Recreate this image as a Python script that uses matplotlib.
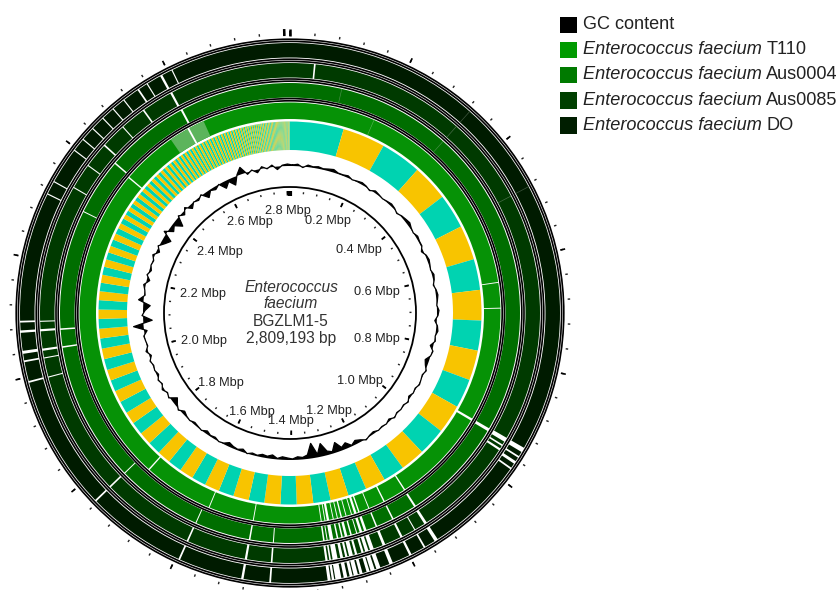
import numpy as np
import matplotlib.pyplot as plt
from matplotlib.patches import Wedge, Rectangle, Circle, PathPatch
from matplotlib.collections import PatchCollection, LineCollection
from matplotlib.path import Path

plt.rcParams['font.family'] = ['Liberation Sans', 'DejaVu Sans']

GENOME_BP = 2809193
GENOME_NAME = ['Enterococcus', 'faecium', 'BGZLM1-5', '2,809,193 bp']

# contig lengths (kb) in assembly order
contig_kb = [
    127, 101, 97, 86, 82, 82, 73, 72, 71, 71, 69, 68, 66, 58, 51, 48, 44, 43, 41, 39, 38,
    38, 37, 37, 36, 35, 34, 33, 33, 32, 31, 30, 30, 29, 29, 28, 27, 26, 26, 25, 24,
    23, 23, 22, 22, 21, 20, 19, 19, 18, 17, 16, 16, 15, 14, 13, 12.5,
    11, 10.5, 10, 9.8, 9.5, 9.2, 9, 8.7, 8.5, 8.2, 8, 7.8, 7.6, 7.4, 7.2, 7, 6.8,
    6.6, 6.4, 6.2, 6, 5.9, 5.8, 5.6, 5.5, 5.4, 5.3, 5.2, 5.1, 5.0, 4.9, 4.8, 4.7, 4.6, 4.5,
    4.4, 4.4, 4.3, 4.3, 4.3, 4.2, 4.2, 4.2, 4.2, 4.1, 4.1, 4.1, 4.0, 3.9, 3.9, 3.8,
    3.7, 3.7, 3.6, 3.5, 3.5, 3.4, 3.4, 3.3, 3.2, 3.2, 3.1, 3.1, 3.0, 3.0,
    2.9, 2.9, 2.8, 2.8, 2.7, 2.7, 2.6, 2.6, 2.5, 2.5, 2.4, 2.4, 2.4, 2.3, 2.3,
    2.2, 2.2, 2.2, 2.1, 2.1, 2.0, 2.0, 2.0, 1.9, 1.9, 1.9, 1.8, 1.8, 1.8, 1.7,
    1.7, 1.7, 1.6, 1.6, 1.6, 1.5, 1.5, 1.5, 1.5, 1.4, 1.4, 1.4, 1.3, 1.3, 1.3, 1.3,
    1.2, 1.2, 1.2, 1.2, 1.1, 1.1, 1.1, 1.1, 1.0, 1.0, 1.0, 1.0, 1.0, 1.0,
    0.9, 0.9, 0.9, 0.9, 0.8, 0.8, 0.8, 0.8, 0.7,
]
CONTIG_COLORS = ['#00d3b1', '#f8c400']

# GC content deviation, 2-degree windows starting at the origin
gc_dev = [
    1, 2, -1, 2, 1, 2, 1, 2, 3, 1,
    1, 2, 0, 1, 2, 1, -1, 2, 1, 0,
    1, 2, 1, -1, 1, 2, 3, 1, 0, 2,
    1, 1, -2, 1, 2, 1, 0, 2, 1, -1,
    1, 2, 1, 0, 2, 1, -2, 1, 2, 0,
    1, -3, 1, 0, -4, -2, 1, -1, 0, 1,
    -1, 0, -2, 1, -1, 0, -1, 1, -2, 0,
    -1, 0, -2, -1, 1, -2, -4, -1, -6, -3,
    -10, -2, -4, -13, -3, -15, -4, -2, -3, -1,
    -2, -3, -1, -4, -2, -3, -1, -2, 0, -3,
    -1, -2, -4, -1, 0, -2, -1, -3, 0, -1,
    -2, 0, -1, -3, 1, -2, -6, 1, -1, 2,
    -1, 1, -2, 0, -1, 1, -2, 2, -1, 0,
    1, -3, 10, -9, 1, -2, -7, 5, -1, 0,
    2, -3, 1, -2, 0, -1, 2, -3, 1, -4,
    -8, 3, -5, -2, -9, 1, -3, 2, -4, 0,
    -2, 1, -6, -1, -3, 0, -7, -2, -8, 1,
    7, -2, 1, -3, 2, -1, 2, -3, 1, 2,
]

strain_ids = ['T110', 'Aus0004', 'Aus0085', 'DO']
strain_colors = ['#069206', '#006e00', '#003a00', '#001b00']
weak_colors = ['#5cb45c', '#4c8f4c', '#4b6e4b', '#3e553e']
legend_colors = ['#009a00', '#007a00', '#004000', '#001e00']

# regions without BLAST hits (kb)
t110_gaps = [(636, 638), (691, 693), (937, 942), (1146, 1149), (1196, 1199), (1232, 1234),
             (1254, 1257), (1261, 1266), (1271, 1273), (1283, 1285), (1293, 1296), (1302, 1304),
             (1311, 1313), (1321, 1326), (1329, 1331), (1337, 1339), (1482, 1484), (1580, 1582),
             (1731, 1734), (2418, 2421), (2582, 2586)]
aus0004_gaps = [(937, 943), (1146, 1150), (1196, 1199), (1231, 1234), (1253, 1258), (1262, 1267),
                (1272, 1274), (1283, 1286), (1292, 1297), (1301, 1304), (1310, 1313), (1320, 1327),
                (1331, 1333), (1337, 1340), (1436, 1438), (1482, 1485), (1592, 1594), (1762, 1764),
                (2039, 2042), (2074, 2077), (2310, 2312), (2422, 2425), (2588, 2592)]
aus0085_gaps = [(43, 46), (936, 944), (950, 953), (958, 962), (1146, 1151), (1170, 1172),
                (1196, 1200), (1230, 1235), (1252, 1259), (1262, 1268), (1271, 1275), (1283, 1287),
                (1291, 1298), (1301, 1305), (1309, 1314), (1319, 1328), (1331, 1334), (1337, 1341),
                (1436, 1439), (1482, 1486), (1592, 1595), (1762, 1765), (1990, 1992), (2025, 2027),
                (2039, 2043), (2074, 2078), (2091, 2093), (2341, 2343), (2388, 2390), (2434, 2437),
                (2481, 2483), (2528, 2531), (2586, 2590)]
do_gaps = [(936, 944), (952, 955), (962, 967), (975, 978), (1146, 1152), (1170, 1173),
           (1196, 1200), (1230, 1236), (1252, 1259), (1262, 1269), (1271, 1276), (1283, 1288),
           (1291, 1298), (1300, 1305), (1309, 1315), (1319, 1329), (1331, 1335), (1337, 1342),
           (1436, 1439), (1482, 1486), (1592, 1595), (1762, 1765), (1990, 1993), (2025, 2028),
           (2039, 2044), (2074, 2078), (2091, 2094), (2310, 2312), (2333, 2335), (2395, 2397),
           (2418, 2420), (2442, 2444), (2466, 2468), (2489, 2491), (2512, 2514), (2541, 2544),
           (2559, 2561), (2585, 2589), (2606, 2608)]
strain_gaps = [t110_gaps, aus0004_gaps, aus0085_gaps, do_gaps]

# weaker hits drawn lighter (kb)
t110_weak = [(183, 184.2), (2540, 2620)]
aus0004_weak = [(101, 102.2), (325, 326.2)]
aus0085_weak = [(325, 326.2), (484, 485.2)]
do_weak = [(325, 326.2), (484, 485.2)]
strain_weak = [t110_weak, aus0004_weak, aus0085_weak, do_weak]

CX, CY = 290, 313
RING_R = [(194, 210.5), (215.5, 230), (235.5, 250), (255.5, 270)]
BORDER_R = [212.2, 214.4, 231.8, 234.0, 251.6, 253.8, 271.6, 273.8]


def to_deg(kb):
    return kb * 1000.0 / GENOME_BP * 360.0


def polar(g, r):
    a = np.deg2rad(g)
    return CX + r * np.sin(a), CY - r * np.cos(a)


def band(g0, g1, r0, r1, color):
    # y axis points down, so data angle = genome angle - 90 runs clockwise
    return Wedge((CX, CY), r1, g0 - 90, g1 - 90, width=r1 - r0,
                 facecolor=color, edgecolor='none', linewidth=0)


fig = plt.figure(figsize=(8.39, 5.90), dpi=100)
ax = fig.add_axes([0, 0, 1, 1])
ax.set_xlim(0, 839)
ax.set_ylim(590, 0)
ax.axis('off')

# contig ring
patches = []
start = 0.0
for i, L in enumerate(contig_kb):
    g0, g1 = to_deg(start), to_deg(start + L)
    patches.append(band(g0, min(g1, 360), 163, 191.5, CONTIG_COLORS[i % 2]))
    start += L
ax.add_collection(PatchCollection(patches, match_original=True))

# BLAST rings
for (r0, r1), col, wcol, gaps, weak in zip(RING_R, strain_colors, weak_colors, strain_gaps, strain_weak):
    ax.add_patch(band(0, 360, r0, r1, col))
    for a, b in weak:
        ax.add_patch(band(to_deg(a), to_deg(b), r0, r1, wcol))
    for a, b in gaps:
        ax.add_patch(band(to_deg(a), to_deg(b), r0 - 0.8, r1 + 0.8, 'white'))

# ring borders
for r in BORDER_R:
    ax.add_patch(Circle((CX, CY), r, fill=False, ec='black', lw=1.2))

# GC content
R_GC = 147
n = len(gc_dev)
ga = (np.arange(n) + 0.5) * 360.0 / n
tx, ty = polar(ga, R_GC + np.array(gc_dev, float))
bx, by = polar(ga[::-1], np.full(n, R_GC))
verts = np.concatenate([np.c_[tx, ty], [[tx[0], ty[0]]], np.c_[bx, by], [[bx[0], by[0]]]])
codes = ([Path.MOVETO] + [Path.LINETO] * (n - 1) + [Path.CLOSEPOLY]) * 2
ax.add_patch(PathPatch(Path(verts, codes), fc='black', ec='none'))
ax.plot(np.r_[tx, tx[0]], np.r_[ty, ty[0]], color='black', lw=0.9)

# inner ruler
ax.add_patch(Circle((CX, CY), 126, fill=False, ec='black', lw=1.3))
segs = []
for kb in np.arange(0, GENOME_BP / 1000.0, 50):
    g = to_deg(kb)
    segs.append([polar(g, 119.5), polar(g, 121.5)])
ax.add_collection(LineCollection(segs, colors='#222222', lw=1.0))
major = []
for kb in np.arange(0, GENOME_BP / 1000.0, 200):
    g = to_deg(kb)
    major.append([polar(g, 117.5), polar(g, 122)])
ax.add_collection(LineCollection(major, colors='black', lw=1.3))
ax.add_collection(LineCollection([[polar(0, 117), polar(0, 122.5)]], colors='black', lw=3))

for kb in np.arange(200, GENOME_BP / 1000.0, 200):
    g = np.deg2rad(to_deg(kb))
    px, py = polar(np.rad2deg(g), 111)
    x = px - 22 * np.sin(g)
    y = py + 5.5 * np.cos(g) + 3
    ax.text(x, y, f'{kb / 1000:.1f} Mbp', fontsize=9.2, ha='center', va='center', color='#222222')

# outer ruler
segs = []
for kb in np.arange(0, GENOME_BP / 1000.0, 40):
    g = to_deg(kb)
    segs.append([polar(g, 278), polar(g, 280.5)])
ax.add_collection(LineCollection(segs, colors='#222222', lw=1.0))
major = []
for kb in np.r_[np.arange(0, GENOME_BP / 1000.0, 200), 2800]:
    g = to_deg(kb)
    major.append([polar(g, 277.5), polar(g, 282.5)])
ax.add_collection(LineCollection(major, colors='black', lw=1.2))
ax.add_collection(LineCollection([[polar(0, 277), polar(0, 284)], [polar(to_deg(2800), 277), polar(to_deg(2800), 284)]],
                                 colors='black', lw=1.8))

# centre title
ax.text(CX + 1, 287, GENOME_NAME[0], fontsize=11.2, style='italic', ha='center', va='center', color='#333333')
ax.text(CX + 1, 304, GENOME_NAME[1], fontsize=11.2, style='italic', ha='center', va='center', color='#333333')
ax.text(CX + 1, 321, GENOME_NAME[2], fontsize=11.2, ha='center', va='center', color='#333333')
ax.text(CX + 1, 338, GENOME_NAME[3], fontsize=11.2, ha='center', va='center', color='#333333')

# legend
fig.canvas.draw()
rend = fig.canvas.get_renderer()
rows = [('GC content', '', 'black')] + [('Enterococcus faecium', s, c)
                                        for s, c in zip(strain_ids, legend_colors)]
for i, (ital, plain, col) in enumerate(rows):
    yc = 24.5 + i * 25.2
    ax.add_patch(Rectangle((560, yc - 8), 16.5, 16.5, fc=col, ec='none'))
    if plain:
        t = ax.text(583, yc, ital, fontsize=13.1, style='italic', va='center', color='#222222')
        bb = t.get_window_extent(renderer=rend)
        ax.text(bb.x1 + 4.5, yc, plain, fontsize=13.1, va='center', color='#222222')
    else:
        ax.text(583, yc, ital, fontsize=13.1, va='center', color='#222222')

fig.savefig('out.png', dpi=100)
